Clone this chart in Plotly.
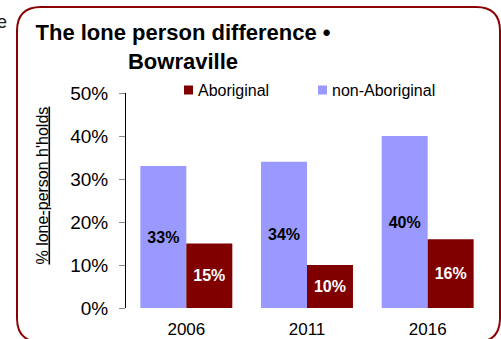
import plotly.graph_objects as go

# Census years and share of lone-person households (%)
years = ["2006", "2011", "2016"]
non_aboriginal = [33, 34, 40]
aboriginal = [15, 10, 16]
series_names = ["Aboriginal", "non-Aboriginal"]

W, H = 501, 339
L, R, T, B = 126, 13, 93, 31
PW, PH = W - L - R, H - T - B


def fx(px):
    """Pixel x -> paper x."""
    return (px - L) / PW


def fy(py):
    """Pixel y -> paper y."""
    return (H - B - py) / PH


FONT = "Liberation Sans, Arial, Helvetica, sans-serif"
BLUE = "#9999ff"
MAROON = "#800000"

fig = go.Figure()
fig.add_trace(go.Bar(
    x=years, y=non_aboriginal, name=series_names[1],
    marker=dict(color=BLUE, line=dict(width=0)),
    text=[f"{v}%" for v in non_aboriginal], texttemplate="%{text}",
    textposition="inside", insidetextanchor="middle",
    textangle=0, constraintext="none",
    textfont=dict(family=FONT, size=16, color="black", weight="bold"),
))
fig.add_trace(go.Bar(
    x=years, y=aboriginal, name=series_names[0],
    marker=dict(color=MAROON, line=dict(width=0)),
    text=[f"{v}%" for v in aboriginal], texttemplate="%{text}",
    textposition="inside", insidetextanchor="middle",
    textangle=0, constraintext="none",
    textfont=dict(family=FONT, size=16, color="white", weight="bold"),
))

# rounded frame around the chart
x0, x1, y0, y1, r = 17, 500, 7, 342, 24
pts = [
    ("M", [(x0 + r, y0)]),
    ("L", [(x1 - r, y0)]),
    ("Q", [(x1, y0), (x1, y0 + r)]),
    ("L", [(x1, y1 - r)]),
    ("Q", [(x1, y1), (x1 - r, y1)]),
    ("L", [(x0 + r, y1)]),
    ("Q", [(x0, y1), (x0, y1 - r)]),
    ("L", [(x0, y0 + r)]),
    ("Q", [(x0, y0), (x0 + r, y0)]),
]
path = " ".join(
    cmd + " " + " ".join(f"{fx(px):.5f},{fy(py):.5f}" for px, py in p)
    for cmd, p in pts
) + " Z"

shapes = [dict(
    type="path", xref="paper", yref="paper", path=path,
    line=dict(color="#8b0000", width=2), fillcolor="rgba(0,0,0,0)",
    layer="above",
)]

# legend: small squares with labels, laid out in one row above the bars
legend_items = [(series_names[0], MAROON, 184), (series_names[1], BLUE, 318)]
annotations = []
for name, color, sx in legend_items:
    shapes.append(dict(
        type="rect", xref="paper", yref="paper",
        x0=fx(sx), x1=fx(sx + 9), y0=fy(94.5), y1=fy(85.5),
        fillcolor=color, line=dict(width=0),
    ))
    annotations.append(dict(
        text=name, xref="paper", yref="paper", x=fx(sx + 12), y=fy(90.5),
        xanchor="left", yanchor="middle", showarrow=False,
        font=dict(family=FONT, size=16, color="black"),
    ))

# rotated, underlined y-axis caption
annotations.append(dict(
    text='<span style="text-decoration:underline">% lone-person h\'holds</span>',
    xref="paper", yref="paper", x=fx(42), y=fy(185.5),
    xanchor="center", yanchor="middle", textangle=-90, showarrow=False,
    font=dict(family=FONT, size=16, color="black"),
))

# stray letter from neighbouring text at the left edge
annotations.append(dict(
    text="e", xref="paper", yref="paper", x=fx(9), y=fy(22),
    xanchor="right", yanchor="middle", showarrow=False,
    font=dict(family=FONT, size=18, color="#222222"),
))

fig.update_layout(
    width=W, height=H,
    margin=dict(l=L, r=R, t=T, b=B, pad=0, autoexpand=False),
    paper_bgcolor="white", plot_bgcolor="white",
    font=dict(family=FONT, color="black", size=17),
    barmode="group", bargap=0.238, bargroupgap=0,
    title=dict(
        text="<b>The lone person difference •<br>Bowraville</b>",
        x=183 / W, xanchor="center", xref="container",
        y=1 - 40 / H, yanchor="middle", yref="container",
        font=dict(family=FONT, size=22, color="black"),
    ),
    showlegend=False,
    xaxis=dict(
        type="category", showline=False, ticks="", showgrid=False,
        zeroline=False, tickfont=dict(size=17, color="black"),
        ticklabelstandoff=9, automargin=False,
    ),
    yaxis=dict(
        range=[0, 50], dtick=10, ticksuffix="%",
        showline=True, linecolor="black", linewidth=1,
        ticks="outside", ticklen=6, tickcolor="#888888",
        showgrid=False, zeroline=False,
        tickfont=dict(size=19, color="black"),
        ticklabelstandoff=7, automargin=False,
    ),
    shapes=shapes,
    annotations=annotations,
)

fig.write_html("out.html")
